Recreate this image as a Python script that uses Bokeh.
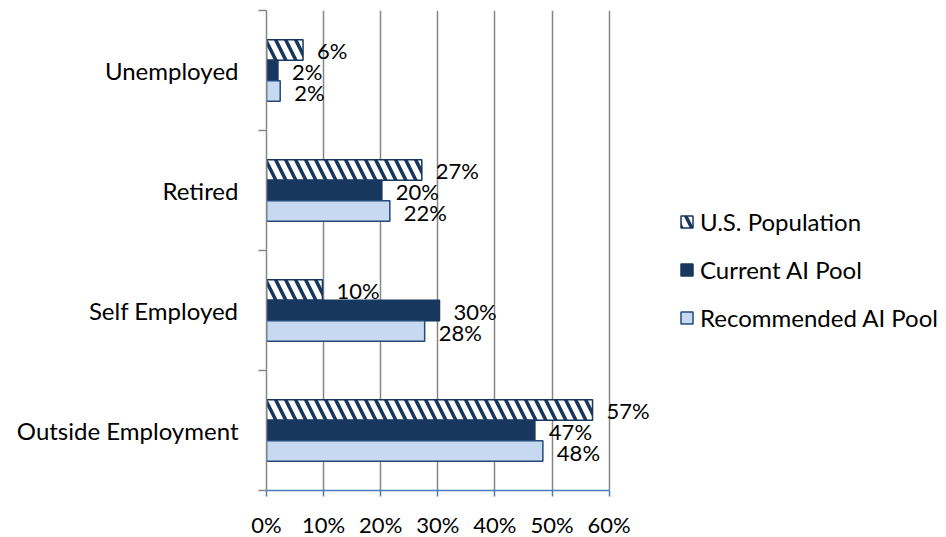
import numpy as np
from bokeh.plotting import figure
from bokeh.models import (ColumnDataSource, Range1d, FixedTicker, LabelSet,
                          Legend, LegendItem, PrintfTickFormatter)
from bokeh.core.properties import value
from bokeh.embed import file_html
from bokeh.resources import INLINE

# ---- data (percent) ----
categories = ["Outside Employment", "Self Employed", "Retired", "Unemployed"]
us_population = [57.1, 9.8, 27.2, 6.4]
current_pool = [47.0, 30.3, 20.2, 2.0]
recommended_pool = [48.4, 27.7, 21.6, 2.4]
series_names = ["U.S. Population", "Current AI Pool", "Recommended AI Pool"]
x_ticks = [0, 10, 20, 30, 40, 50, 60]

# ---- style ----
FONT = "Lato"
FS_NUM = "22px"
FS_TXT = "24px"
NAVY = "#17375E"
LIGHT = "#C6D9F1"
GRID = "#868686"
AXIS_BLUE = "#4A7EBB"
BAR_H = 0.171
PX_PER_UNIT = 5.71          # 10 % = 57.1 px
FRAME_W = 672
X_MAX = FRAME_W / PX_PER_UNIT

p = figure(frame_width=FRAME_W, frame_height=480,
           min_border_left=266, min_border_right=0,
           min_border_top=10, min_border_bottom=47,
           x_range=Range1d(0, X_MAX), y_range=Range1d(0, 4),
           output_backend="svg", toolbar_location=None)
p.outline_line_color = None
p.background_fill_color = "white"

centers = np.arange(len(categories)) + 0.5
offsets = [BAR_H, 0.0, -BAR_H]
series_vals = [us_population, current_pool, recommended_pool]

renderers = []
for i, vals in enumerate(series_vals):
    src = ColumnDataSource(dict(
        y=centers + offsets[i],
        v=vals,
        lab=["%d%%" % int(round(v)) for v in vals],
    ))
    if i == 0:
        r = p.hbar(y="y", right="v", left=0, height=BAR_H, source=src,
                   fill_color="white", hatch_pattern="\\", hatch_color=NAVY,
                   hatch_weight=3.5, hatch_scale=20,
                   line_color=NAVY, line_width=1.5)
    elif i == 1:
        r = p.hbar(y="y", right="v", left=0, height=BAR_H, source=src,
                   fill_color=NAVY, line_color=NAVY, line_width=1.5)
    else:
        r = p.hbar(y="y", right="v", left=0, height=BAR_H, source=src,
                   fill_color=LIGHT, line_color="#24497A", line_width=1.5)
    renderers.append(r)
    p.add_layout(LabelSet(x="v", y="y", text="lab", source=src,
                          x_offset=14, y_offset=-1, text_baseline="middle",
                          text_align="left", text_font=value(FONT),
                          text_font_size=FS_NUM, text_color="black"))

# ---- x axis ----
xax = p.xaxis[0]
xax.bounds = (0, 60)
xax.ticker = FixedTicker(ticks=x_ticks)
xax.formatter = PrintfTickFormatter(format="%d%%")
xax.axis_line_color = AXIS_BLUE
xax.axis_line_width = 1.5
xax.major_tick_line_color = AXIS_BLUE
xax.major_tick_line_width = 1.5
xax.major_tick_in = 0
xax.major_tick_out = 6
xax.minor_tick_line_color = None
xax.major_label_text_font = FONT
xax.major_label_text_font_size = FS_NUM
xax.major_label_text_color = "black"
xax.major_label_standoff = 14

p.xgrid.ticker = FixedTicker(ticks=x_ticks)
p.xgrid.grid_line_color = GRID
p.xgrid.grid_line_width = 1.5
p.ygrid.grid_line_color = None

# ---- y axis ----
yax = p.yaxis[0]
yax.ticker = FixedTicker(ticks=list(centers),
                         minor_ticks=list(np.arange(len(categories) + 1)))
yax.major_label_overrides = {float(c): name for c, name in zip(centers, categories)}
yax.axis_line_color = GRID
yax.axis_line_width = 1.5
yax.major_tick_line_color = None
yax.major_tick_out = 0
yax.major_tick_in = 0
yax.minor_tick_line_color = GRID
yax.minor_tick_line_width = 1.5
yax.minor_tick_in = 0
yax.minor_tick_out = 8
yax.major_label_text_font = FONT
yax.major_label_text_font_size = FS_TXT
yax.major_label_text_color = "black"
yax.major_label_standoff = 20

# ---- legend ----
legend = Legend(items=[LegendItem(label=n, renderers=[r])
                       for n, r in zip(series_names, renderers)],
                location=(413, 158), orientation="vertical",
                glyph_width=15, glyph_height=15, label_standoff=6,
                spacing=19, padding=0, margin=0,
                border_line_color=None, background_fill_alpha=0,
                label_text_font=FONT, label_text_font_size=FS_TXT,
                label_text_color="black", label_height=20)
p.add_layout(legend)

open("out.html", "w").write(file_html(p, INLINE))
